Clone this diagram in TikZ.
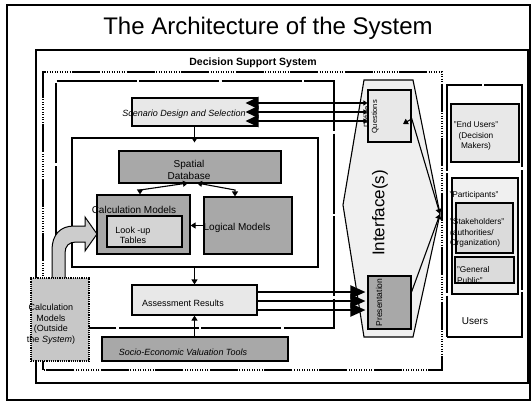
\documentclass[tikz,border=0pt]{standalone}
\usepackage{fontspec}
\setmainfont{Liberation Sans}
\usetikzlibrary{arrows.meta}
\definecolor{gDark}{gray}{0.66}
\definecolor{gOut}{gray}{0.78}
\definecolor{gArrow}{gray}{0.80}
\definecolor{gTab}{gray}{0.83}
\definecolor{gStake}{gray}{0.86}
\definecolor{gLight}{gray}{0.91}
\definecolor{gPale}{gray}{0.94}
\begin{document}
\begin{tikzpicture}[x=1pt,y=-1pt,
  frameline/.style={line width=1.1pt},
  dssframe/.style={line width=1.1pt,
    dash pattern=on 28pt off 1.5pt on 1pt off 1.5pt on 1pt off 1.5pt on 1pt off 1.5pt
      on 1pt off 1.5pt on 1pt off 1.5pt on 1pt off 1.5pt on 1pt off 1.5pt on 1pt off 1.5pt
      on 1pt off 1.5pt on 1pt off 1.5pt},
  longdash/.style={line width=1.1pt, dash pattern=on 80pt off 2.5pt},
  box/.style={draw, rectangle, line width=1.1pt, inner sep=0pt},
  darkbox/.style={box, fill=gDark},
  lightbox/.style={box, fill=gLight},
  lbl/.style={inner sep=0pt, align=center, font=\fontsize{9}{10.5}\selectfont},
  biglbl/.style={inner sep=0pt, align=center, font=\fontsize{10}{12}\selectfont},
  smlbl/.style={inner sep=0pt, font=\fontsize{8.3}{10.5}\selectfont},
  tip/.style={line width=1.1pt, -{Triangle[length=5pt,width=6pt]}},
  twotip/.style={line width=1.1pt, {Triangle[length=5pt,width=6pt]}-{Triangle[length=5pt,width=6pt]}},
  bus/.style={line width=2pt},
]
\useasboundingbox (0,0) rectangle (531,402);
\fill[white] (0,0) rectangle (531,402);

% outer frame and title
\draw[frameline] (7,5) rectangle (530,400);
\node[inner sep=0pt, font=\fontsize{24}{28}\selectfont] (title) at (268,28) {The Architecture of the System};
\draw[frameline] (36,50) rectangle (528,383);

% Decision Support System boundary
\node[inner sep=0pt, font=\bfseries\fontsize{10.5}{12}\selectfont] (dsslabel) at (253,63) {Decision Support System};
\draw[dssframe] (43,370) -- (43,72) -- (442,72) -- (442,370) -- cycle;

% modelling block frame
\draw[longdash] (56,328) -- (56,81) -- (334,81) -- (334,328) -- cycle;

% core frame
\node[box, minimum width=246pt, minimum height=129pt] (core) at (195,202.5) {};

% interface
\coordinate (iTL) at (364,80);
\coordinate (iTR) at (413,80);
\coordinate (iR) at (440,214);
\coordinate (iBR) at (413,337);
\coordinate (iBL) at (364,337);
\coordinate (iL) at (343,205);
\draw[line width=1.1pt, fill=gPale] (iTL) -- (iTR) -- (iR) -- (iBR) -- (iBL) -- (iL) -- cycle;
\node[inner sep=0pt, rotate=90, font=\fontsize{17}{20}\selectfont] (iface) at (380,213) {Interface(s)};

% users panel
\node[box, fill=white, dash pattern=on 120pt off 2.5pt, minimum width=75pt, minimum height=252pt] (users) at (484.5,211) {};
\node[inner sep=0pt, font=\fontsize{10}{12}\selectfont] (userslbl) at (475,321) {Users};
\node[lightbox, minimum width=68pt, minimum height=58pt] (endu) at (485,133) {};
\node[smlbl, align=center] (endulbl) at (476,136) {"End Users"\\(Decision\\Makers)};
\node[box, fill=gPale, minimum width=66pt, minimum height=116pt] (partic) at (485,236) {};
\node[smlbl] (particlbl) at (474,195) {"Participants"};
\node[box, fill=gStake, minimum width=57pt, minimum height=50pt] (stake) at (484.5,228) {};
\node[smlbl, align=left, anchor=west] (stakelbl) at (450,233) {"Stakeholders"\\(authorities/\\Organization)};
\node[box, fill=gStake, minimum width=59pt, minimum height=26pt] (genp) at (484.5,270) {};
\node[smlbl, align=left, anchor=west] (genplbl) at (457,275) {"General\\Public"};

% scenario and models
\node[lightbox, minimum width=125pt, minimum height=28pt] (scen) at (194.5,112) {};
\node[lbl, font=\itshape\fontsize{9}{10.5}\selectfont] (scenlbl) at (184,114) {Scenario Design and Selection};
\node[darkbox, minimum width=162pt, minimum height=32pt] (sdb) at (200,167) {};
\node[biglbl] (sdblbl) at (189,170) {Spatial\\Database};
\node[darkbox, minimum width=93pt, minimum height=59pt] (calc) at (143.5,224.5) {};
\node[biglbl] (calclbl) at (134,210) {Calculation Models};
\node[box, fill=gTab, minimum width=75pt, minimum height=31pt] (lookup) at (144.5,231.5) {};
\node[lbl] (lookuplbl) at (133,235.5) {Look -up\\Tables};
\node[darkbox, minimum width=88pt, minimum height=57pt] (logic) at (248,225.5) {};
\node[biglbl] (logiclbl) at (237,228) {Logical Models};

% assessment and valuation
\node[lightbox, minimum width=125pt, minimum height=30pt] (assess) at (194.5,300) {};
\node[lbl] (assesslbl) at (183,303) {Assessment Results};
\node[darkbox, minimum width=186pt, minimum height=24pt] (socio) at (195,349) {};
\node[lbl, font=\itshape\fontsize{9}{10.5}\selectfont] (sociolbl) at (183,352) {Socio-Economic Valuation Tools};

% external calculation models and their feed into the core
\filldraw[fill=gArrow, line width=1pt]
  (52,279) -- (52,250) .. controls (52,235) and (60,226) .. (74,226) -- (85,226)
  -- (85,217) -- (97,234) -- (85,251) -- (85,242) -- (76,242)
  .. controls (69,242) and (65,246) .. (65,253) -- (65,279);
\node[draw, densely dotted, line width=1.2pt, fill=gOut, inner sep=0pt, minimum width=58pt, minimum height=83pt] (outside) at (60,319.5) {};
\node[lbl] (outsidelbl) at (51,324) {Calculation\\Models\\(Outside\\the \textit{System})};

% interface boxes
\node[lightbox, minimum width=43pt, minimum height=52pt] (quest) at (389.5,116) {};
\node[inner sep=0pt, rotate=90, align=center, font=\fontsize{7.5}{8}\selectfont] (questlbl) at (371,117) {Define\\Questions};
\node[darkbox, minimum width=43pt, minimum height=53pt] (pres) at (389.5,302.5) {};
\node[inner sep=0pt, rotate=90, font=\fontsize{8.5}{10}\selectfont] (preslbl) at (379,302.5) {Presentation};

% vertical flow
\draw[tip] (scen.south) -- ([yshift=-5pt]scen.south |- core.north);
\draw[tip] (core.south -| assess.north) -- (assess.north);
\draw[tip] (socio.north -| assess.south) -- (assess.south);

% database links
\coordinate (sdbL) at (188,183);
\coordinate (sdbR) at (197,183);
\draw[twotip] (sdbL) -- (140,190) -- (calc.north -| 140,0);
\draw[twotip] (sdbR) -- (235,190) -- (logic.north -| 235,0);
\draw[tip] (logic.west) -- (calc.east |- logic.west);

% scenario <-> questions
\foreach \yy in {103,112,121}
  \draw[bus, {Triangle[length=13pt,width=12pt]}-{Triangle[length=4pt,width=5pt]}]
    ([xshift=-12pt]scen.east |- 0,\yy) -- (quest.west |- 0,\yy);

% assessment -> presentation
\foreach \yy in {292,301,310}
  \draw[bus, -{Triangle[length=15pt,width=13pt]}]
    (assess.east |- 0,\yy) -- ([xshift=-2pt]pres.west |- 0,\yy);

% interface -> participants
\coordinate (qmark) at (403,124);
\draw[tip] (quest.east |- 0,118) -- (iR);
\draw[tip] (pres.east |- 0,292) -- (iR);
\draw[line width=1.1pt, -{Triangle[length=5pt,width=6pt]}] (quest.east |- 0,119) -- (qmark);
\end{tikzpicture}
\end{document}
